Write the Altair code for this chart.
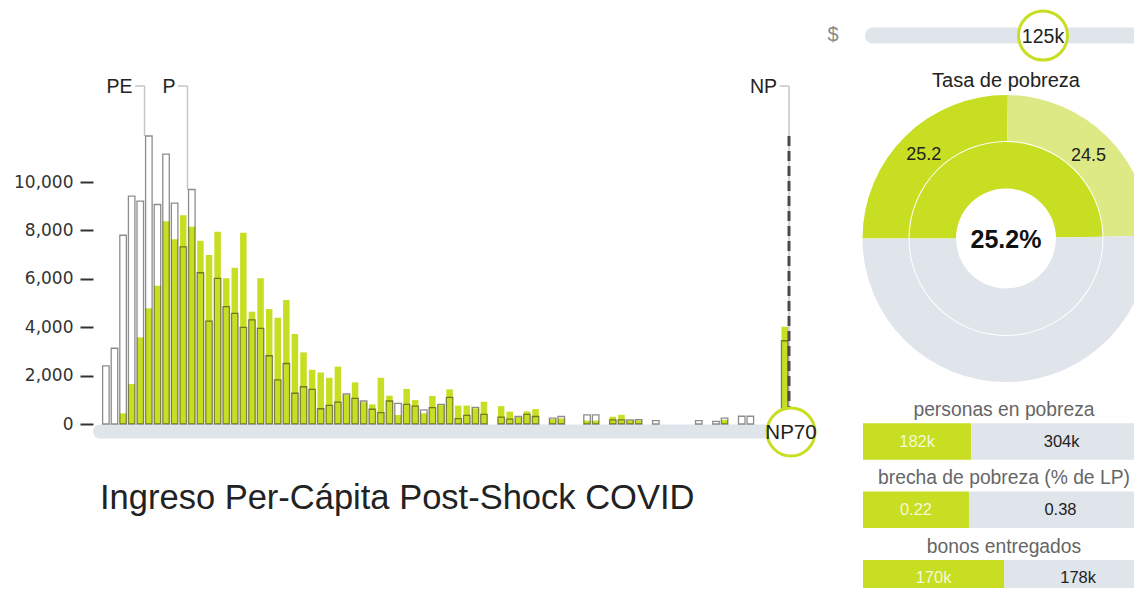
import math
import altair as alt
import pandas as pd

# ---------------- data ----------------
bins = list(range(1, 81))
pre = [2400, 3130, 7800, 9420, 9210, 11900, 9070, 11150, 9130, 7320,
       9690, 6250, 4250, 6020, 4850, 4570, 3990, 4300, 3950, 2820,
       1820, 2500, 1270, 1540, 1430, 630, 770, 900, 1240, 1060,
       950, 610, 470, 950, 850, 810, 740, 580, 680, 810,
       1100, 220, 360, 690, 400, 0, 280, 200, 310, 400,
       310, 0, 240, 310, 0, 0, 380, 380, 0, 170,
       170, 170, 180, 0, 140, 0, 0, 0, 0, 140,
       0, 110, 240, 0, 320, 320, 0, 0, 0, 3440]
post = [0, 0, 440, 1650, 3580, 4780, 5710, 8380, 7630, 8630,
        8150, 7570, 6980, 7940, 6020, 6460, 7900, 4640, 6020, 4750,
        4390, 5120, 3720, 2960, 2240, 2130, 1910, 2370, 1200, 1720,
        900, 810, 1910, 1170, 370, 1450, 990, 440, 1160, 780,
        1430, 760, 760, 650, 920, 0, 740, 510, 280, 520,
        620, 0, 200, 230, 0, 0, 140, 140, 0, 300,
        380, 150, 150, 0, 0, 0, 0, 0, 0, 0,
        0, 0, 170, 0, 0, 0, 0, 0, 0, 4020]

ann_labels = ["PE", "P", "NP"]
ann_pos = [5, 10, 80]
ann_end = [11900, 9690, 0]

y_ticks = [0, 2000, 4000, 6000, 8000, 10000]
hist_title = ["Ingreso Per-Cápita Post-Shock COVID"]
slider_label = ["NP70"]
income_label = ["125k"]
income_axis_text = ["$"]

donut_title = ["Tasa de pobreza"]
outer_cat = ["post", "pre", "resto"]
outer_val = [25.2, 24.5, 50.3]
outer_lab = ["25.2", "24.5", ""]
inner_cat = ["total", "resto"]
inner_val = [49.7, 50.3]
center_text = ["25.2%"]

rows = ["personas en pobreza", "brecha de pobreza (% de LP)", "bonos entregados"]
green_vals = [182, 0.22, 170]
gray_vals = [304, 0.38, 178]
green_text = ["182k", "0.22", "170k"]
gray_text = ["304k", "0.38", "178k"]

GREEN = "#c8de22"
LIGHT = "#dde984"
GRAY = "#e0e4eb"
FONT = "Liberation Sans"

# ---------------- scales ----------------
X = alt.Scale(domain=[-1, 80], range=[0, 696], padding=0, nice=False)
Y = alt.Scale(domain=[0, 10000], range=[416, 174], nice=False, padding=0)
TH = alt.Scale(domain=[0, 100], range=[-math.pi / 2, 3 * math.pi / 2])

hist = pd.DataFrame({"bin": bins, "pre": pre, "post": post})
ann = pd.DataFrame({"label": ann_labels, "pos": ann_pos, "end": ann_end})
one = pd.DataFrame({"a": [0]})

# track under histogram
track = alt.Chart(one).mark_rule(strokeCap="round", strokeWidth=14, color=GRAY).encode(
    x=alt.value(7), x2=alt.value(690), y=alt.value(423.5))

# annotation lines
ann_v = alt.Chart(ann).mark_rule(color="#c6c6c6", strokeWidth=1.5).encode(
    x=alt.X("pos:Q", scale=X, axis=None),
    y=alt.Y("end:Q", scale=Y, axis=None),
    y2=alt.value(78))
ann_h = alt.Chart(ann).transform_calculate(stub="datum.pos - 1.1").mark_rule(
    color="#c6c6c6", strokeWidth=1.5).encode(
    x=alt.X("pos:Q", scale=X, axis=None), x2="stub:Q", y=alt.value(78))
ann_t = alt.Chart(ann).mark_text(align="right", baseline="middle", dx=-12,
                                  fontSize=19.5, color="#222").encode(
    x=alt.X("pos:Q", scale=X, axis=None), y=alt.value(79), text="label:N")

green_bars = alt.Chart(hist).transform_filter("datum.post > 0").transform_calculate(
    x0="datum.bin - 0.88", x1="datum.bin - 0.12").mark_bar(color=GREEN).encode(
    x=alt.X("x0:Q", scale=X, axis=None), x2="x1:Q",
    y=alt.Y("post:Q", scale=Y, axis=None), y2=alt.Y2(datum=0))

white_bars = alt.Chart(hist).transform_filter("datum.pre > 0").transform_calculate(
    x0="datum.bin - 0.88", x1="datum.bin - 0.12").mark_bar(
    filled=False, color="#000", strokeOpacity=0.45, strokeWidth=1.3).encode(
    x=alt.X("x0:Q", scale=X, axis=None), x2="x1:Q",
    y=alt.Y("pre:Q", scale=Y, title=None,
            axis=alt.Axis(values=y_ticks, format=",.0f", tickSize=13, tickWidth=2,
                          tickColor="#333", labelFontSize=17, labelColor="#333",
                          labelFont="DejaVu Sans", labelPadding=7, domain=False,
                          grid=False)),
    y2=alt.Y2(datum=0))

dash_df = pd.DataFrame({"pos": [ann_pos[2]], "top": [max(pre)]})
np_dash = alt.Chart(dash_df).mark_rule(color="#4a4a4a", strokeWidth=3,
                                        strokeDash=[10, 5]).encode(
    x=alt.X("pos:Q", scale=X, axis=None),
    y=alt.Y("top:Q", scale=Y, axis=None), y2=alt.value(414))

handle = alt.Chart(pd.DataFrame({"t": slider_label})).mark_point(
    shape="circle", size=2300, filled=True, fill="white", stroke=GREEN,
    strokeWidth=3, opacity=1).encode(x=alt.value(698), y=alt.value(424))
handle_t = alt.Chart(pd.DataFrame({"t": slider_label})).mark_text(
    fontSize=20.5, color="#222", baseline="middle").encode(
    x=alt.value(698), y=alt.value(425), text="t:N")

title_t = alt.Chart(pd.DataFrame({"t": hist_title})).mark_text(
    align="left", baseline="alphabetic", fontSize=34.5, color="#222").encode(
    x=alt.value(7), y=alt.value(501), text="t:N")

# ---------------- right panel ----------------
cur_t = alt.Chart(pd.DataFrame({"t": income_axis_text})).mark_text(
    fontSize=20, color="#888", baseline="middle").encode(
    x=alt.value(740), y=alt.value(27), text="t:N")
slider2 = alt.Chart(one).mark_rule(strokeCap="round", strokeWidth=16, color=GRAY).encode(
    x=alt.value(780), x2=alt.value(1080), y=alt.value(27.5))
handle2 = alt.Chart(pd.DataFrame({"t": income_label})).mark_point(
    shape="circle", size=2400, filled=True, fill="white", stroke=GREEN,
    strokeWidth=3, opacity=1).encode(x=alt.value(950), y=alt.value(27.5))
handle2_t = alt.Chart(pd.DataFrame({"t": income_label})).mark_text(
    fontSize=19.5, color="#222", baseline="middle").encode(
    x=alt.value(950), y=alt.value(28.5), text="t:N")

donut_t = alt.Chart(pd.DataFrame({"t": donut_title})).mark_text(
    fontSize=20, color="#222", baseline="middle").encode(
    x=alt.value(913), y=alt.value(73), text="t:N")

outer = pd.DataFrame({"cat": outer_cat, "val": outer_val, "lab": outer_lab,
                      "ord": list(range(len(outer_cat)))})
inner = pd.DataFrame({"cat": inner_cat, "val": inner_val,
                      "ord": list(range(len(inner_cat)))})

def cum(ch):
    return ch.transform_window(cum="sum(val)", sort=[alt.SortField("ord")]).transform_calculate(
        start="datum.cum - datum.val", mid="datum.cum - datum.val / 2")

CX, CY = 913, 230.5
outer_arc = cum(alt.Chart(outer)).mark_arc(radius=143.5, radius2=97.5).encode(
    theta=alt.Theta("start:Q", scale=TH), theta2="cum:Q",
    color=alt.Color("cat:N", scale=alt.Scale(domain=outer_cat, range=[GREEN, LIGHT, GRAY]),
                    legend=None),
    x=alt.value(CX), y=alt.value(CY))
inner_arc = cum(alt.Chart(inner)).mark_arc(radius=96.5, radius2=50).encode(
    theta=alt.Theta("start:Q", scale=TH), theta2="cum:Q",
    color=alt.Color("cat:N", scale=alt.Scale(domain=inner_cat, range=[GREEN, GRAY]),
                    legend=None),
    x=alt.value(CX), y=alt.value(CY))
outer_lab_t = cum(alt.Chart(outer)).transform_filter("datum.lab != ''").mark_text(
    radius=117, fontSize=18, color="#222", baseline="middle").encode(
    theta=alt.Theta("mid:Q", scale=TH), text="lab:N",
    x=alt.value(CX), y=alt.value(CY))
center_t = alt.Chart(pd.DataFrame({"t": center_text})).mark_text(
    fontSize=25, fontWeight="bold", color="#111", baseline="middle").encode(
    x=alt.value(CX), y=alt.value(CY + 1), text="t:N")

seg = pd.DataFrame({
    "row": rows * 2,
    "val": green_vals + gray_vals,
    "txt": green_text + gray_text,
    "seg": ["a"] * 3 + ["b"] * 3,
})
BX = alt.Scale(domain=[0, 1], range=[770, 1059])
BY = alt.Scale(type="band", domain=rows, range=[415.3, 588.4], paddingInner=0.466,
               paddingOuter=0)

def segs(ch):
    return ch.transform_joinaggregate(total="sum(val)", groupby=["row"]).transform_window(
        cum="sum(val)", groupby=["row"], sort=[alt.SortField("seg")]).transform_calculate(
        s0="(datum.cum - datum.val) / datum.total", s1="datum.cum / datum.total",
        sm="(datum.cum - datum.val / 2) / datum.total")

bars = segs(alt.Chart(seg)).mark_bar().encode(
    x=alt.X("s0:Q", scale=BX, axis=None), x2="s1:Q",
    y=alt.Y("row:N", scale=BY, axis=None),
    color=alt.Color("seg:N", scale=alt.Scale(domain=["a", "b"], range=[GREEN, GRAY]),
                    legend=None))
bars_t = segs(alt.Chart(seg)).mark_text(fontSize=16.5, baseline="middle").encode(
    x=alt.X("sm:Q", scale=BX, axis=None),
    y=alt.Y("row:N", scale=BY, axis=None),
    text="txt:N",
    color=alt.Color("seg:N", scale=alt.Scale(domain=["a", "b"], range=["#f3f8d6", "#222"]),
                    legend=None))
row_t = alt.Chart(pd.DataFrame({"row": rows})).mark_text(
    fontSize=19.3, color="#666", baseline="middle", dy=-31.5).encode(
    x=alt.value(911), y=alt.Y("row:N", scale=BY, axis=None), text="row:N")

chart = alt.layer(
    track, ann_v, ann_h, ann_t, green_bars, white_bars, np_dash, handle, handle_t, title_t,
    cur_t, slider2, handle2, handle2_t, donut_t, outer_arc, inner_arc, outer_lab_t, center_t,
    bars, bars_t, row_t,
).resolve_scale(
    x="independent", y="independent", theta="independent", color="independent"
).properties(
    width=1041, height=580,
    autosize=alt.AutoSizeParams(type="none"),
    padding={"left": 85, "top": 0, "right": 0, "bottom": 0},
).configure(font=FONT).configure_view(stroke=None)

chart.save("out.html", embed_options={"renderer": "svg", "actions": False})
